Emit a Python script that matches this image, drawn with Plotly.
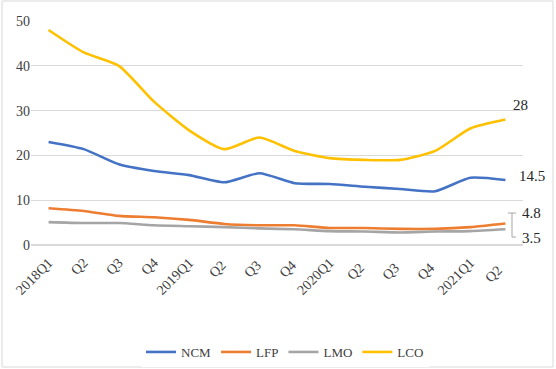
import plotly.graph_objects as go

quarters = ["2018Q1", "Q2", "Q3", "Q4", "2019Q1", "Q2 ", "Q3 ", "Q4 ",
            "2020Q1", "Q2  ", "Q3  ", "Q4  ", "2021Q1", "Q2   "]
ncm = [23, 21.4, 18, 16.5, 15.6, 14, 16, 13.8, 13.6, 13, 12.5, 12, 15, 14.5]
lfp = [8.2, 7.6, 6.5, 6.2, 5.6, 4.7, 4.4, 4.4, 3.8, 3.8, 3.6, 3.6, 4.0, 4.8]
lmo = [5.1, 4.9, 4.9, 4.4, 4.2, 4.0, 3.7, 3.5, 3.1, 3.0, 2.8, 3.0, 3.1, 3.5]
lco = [48, 43, 40, 32, 25.6, 21.4, 24, 21, 19.4, 19, 19, 21, 26, 28]

names = ["NCM", "LFP", "LMO", "LCO"]
colors = ["#4472C4", "#ED7D31", "#A5A5A5", "#FFC000"]
series = [ncm, lfp, lmo, lco]

fig = go.Figure()
for n, c, s in zip(names, colors, series):
    fig.add_trace(go.Scatter(x=quarters, y=s, name=n, mode="lines",
                             line=dict(color=c, width=2.6, shape="spline", smoothing=0.6)))

font = "Liberation Serif, DejaVu Serif, serif"
W, H = 556, 369
L, R, T, B = 31, 33, 21, 124
pw, ph = W - L - R, H - T - B

def px(x):
    return (x - L) / pw

def py(y):
    return (H - B - y) / ph

annots = [
    dict(text="28", x=px(520), y=py(105)),
    dict(text="14.5", x=px(532), y=py(176)),
    dict(text="4.8", x=px(531), y=py(213)),
    dict(text="3.5", x=px(531), y=py(238)),
]
fig.update_layout(
    width=W, height=H,
    margin=dict(l=L, r=R, t=T, b=B, autoexpand=False),
    paper_bgcolor="white", plot_bgcolor="white",
    font=dict(family=font, size=14, color="#404040"),
    showlegend=True,
    legend=dict(orientation="h", x=px(285), xanchor="center", y=py(352), yanchor="middle",
                font=dict(size=13, color="#404040"), tracegroupgap=0, itemwidth=30),
    xaxis=dict(tickangle=-45, showgrid=False, showline=False, ticks="outside", ticklen=3,
               tickcolor="rgba(0,0,0,0)", automargin=False,
               range=[-0.5, len(quarters) - 0.5],
               tickfont=dict(size=14, color="#404040"), fixedrange=True),
    yaxis=dict(range=[0, 50], dtick=10, showgrid=True, gridcolor="#D9D9D9", gridwidth=1,
               zeroline=True, zerolinecolor="#D9D9D9", showline=False, ticks="", automargin=False,
               tickfont=dict(size=14, color="#404040"), fixedrange=True),
    annotations=[dict(text=a["text"], x=a["x"], y=a["y"], xref="paper", yref="paper",
                      xanchor="center", yanchor="middle", showarrow=False,
                      font=dict(size=15, color="#262626", family=font)) for a in annots],
    shapes=[
        dict(type="rect", xref="paper", yref="paper", x0=px(2), x1=px(553), y0=py(367), y1=py(1),
             line=dict(color="#D9D9D9", width=1)),
        dict(type="line", xref="paper", yref="paper", x0=px(508), x1=px(512), y0=py(213), y1=py(213),
             line=dict(color="#A5A5A5", width=1)),
        dict(type="line", xref="paper", yref="paper", x0=px(512), x1=px(512), y0=py(213), y1=py(237),
             line=dict(color="#A5A5A5", width=1)),
        dict(type="line", xref="paper", yref="paper", x0=px(512), x1=px(516), y0=py(237), y1=py(237),
             line=dict(color="#A5A5A5", width=1)),
        dict(type="line", xref="paper", yref="paper", x0=px(512), x1=px(516), y0=py(213), y1=py(213),
             line=dict(color="#A5A5A5", width=1)),
    ],
)
fig.write_html("out.html", config={"displayModeBar": False},
               post_script="document.body.style.margin='0';document.body.style.overflow='hidden';")
